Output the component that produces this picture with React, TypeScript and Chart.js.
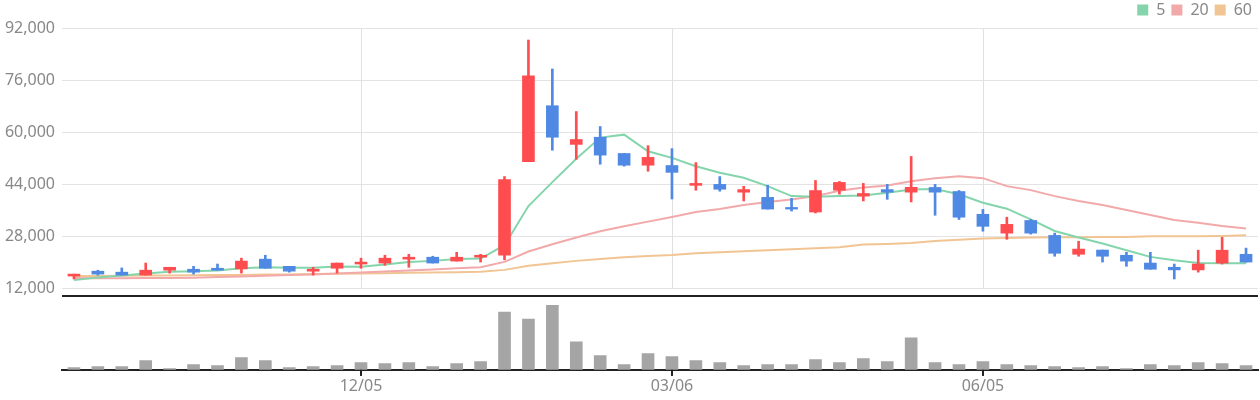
import React, { useEffect, useRef } from "react";
import { Chart, registerables } from "chart.js";

Chart.register(...registerables);

// ---- data (weekly candles) ----
const dates = [
  "09/12", "09/19", "09/26", "10/03", "10/10", "10/17", "10/24", "10/31", "11/07", "11/14",
  "11/21", "11/28", "12/05", "12/12", "12/19", "12/26", "01/02", "01/09", "01/16", "01/23",
  "01/30", "02/06", "02/13", "02/20", "02/27", "03/06", "03/13", "03/20", "03/27", "04/03",
  "04/10", "04/17", "04/24", "05/01", "05/08", "05/15", "05/22", "05/29", "06/05", "06/12",
  "06/19", "06/26", "07/03", "07/10", "07/17", "07/24", "07/31", "08/07", "08/14", "08/21",
];
const shownDates = ["12/05", "03/06", "06/05"];

const openP = [
  15700, 17200, 16900, 16000, 17500, 17800, 18100, 17900, 20900, 18700,
  17200, 18100, 19400, 19700, 20900, 21500, 20300, 21500, 22100, 50900,
  68100, 56200, 58400, 53400, 49800, 49700, 43600, 43900, 41500, 39900,
  36800, 35400, 42100, 40300, 42300, 41500, 42950, 41700, 34700, 28900,
  32800, 28200, 22400, 23700, 22100, 19700, 18400, 17600, 19700, 22400,
];
const highP = [
  16300, 17500, 18200, 19700, 18400, 18700, 19400, 21200, 22100, 18700,
  18400, 19700, 21200, 22100, 22400, 21800, 23000, 22400, 46300, 88300,
  79400, 66300, 61700, 53400, 55800, 54900, 50600, 46300, 43300, 43600,
  39600, 45100, 44800, 44200, 43900, 52500, 43900, 42000, 36200, 33800,
  33100, 28900, 26400, 23700, 23000, 23000, 19400, 23650, 27600, 24300,
];
const lowP = [
  14800, 16000, 16000, 16000, 16600, 16300, 17500, 16600, 18100, 16900,
  16000, 16600, 18100, 19000, 18400, 19700, 20300, 20000, 20700, 50900,
  54400, 51600, 50100, 49500, 47950, 39400, 42100, 41800, 38800, 36300,
  35700, 35100, 40900, 38800, 39300, 38500, 34400, 33100, 29500, 27000,
  28600, 21800, 21800, 20000, 18700, 17800, 14800, 16900, 19400, 20000,
];
const closeP = [
  16300, 16300, 16000, 17500, 18400, 16900, 17500, 20300, 18100, 17200,
  17800, 19700, 20000, 21200, 21500, 19700, 21500, 22100, 45400, 77300,
  58400, 57700, 52900, 49800, 52200, 47600, 44200, 42400, 42300, 36300,
  36300, 42000, 44500, 41100, 41500, 43000, 41500, 33800, 31000, 31600,
  28900, 22700, 24000, 21800, 20300, 17800, 17600, 19400, 23650, 20000,
];
const volume = [
  70000, 100000, 100000, 280000, 40000, 160000, 130000, 370000, 280000, 70000,
  100000, 130000, 220000, 190000, 220000, 100000, 190000, 250000, 1750000, 1540000,
  1960000, 850000, 430000, 160000, 490000, 400000, 280000, 220000, 130000, 160000,
  160000, 310000, 220000, 340000, 250000, 970000, 220000, 160000, 250000, 160000,
  130000, 100000, 70000, 100000, 40000, 160000, 130000, 220000, 190000, 130000,
];
const ma5 = [
  14450, 15280, 15890, 16500, 17000, 17200, 17420, 18130, 18440, 18220,
  18220, 18650, 18530, 19260, 20060, 20370, 20980, 21100, 25180, 37230,
  44590, 51750, 58280, 59200, 54090, 52050, 49490, 47460, 45930, 43360,
  40290, 40100, 40290, 40500, 41330, 42340, 42440, 40860, 38260, 36430,
  33150, 29570, 27540, 25700, 23650, 21600, 20580, 19750, 19660, 19660,
];
const ma20 = [
  15100, 15050, 15050, 15100, 15100, 15200, 15400, 15600, 15800, 16000,
  16200, 16500, 16800, 17100, 17400, 17700, 18100, 18400, 20060, 23240,
  25490, 27540, 29470, 31000, 32440, 33860, 35390, 36300, 37530, 38450,
  39280, 40290, 41940, 42960, 43570, 44890, 45810, 46420, 45810, 43360,
  42130, 40290, 38760, 37530, 36000, 34470, 32930, 32130, 31100, 30300,
];
const ma60 = [
  15700, 15750, 15800, 15850, 15900, 15950, 16000, 16050, 16150, 16200,
  16300, 16400, 16500, 16600, 16700, 16800, 16900, 17000, 17600, 18840,
  19660, 20370, 20980, 21500, 21900, 22210, 22730, 23030, 23340, 23650,
  23950, 24260, 24570, 25390, 25580, 25880, 26500, 26900, 27230, 27420,
  27540, 27630, 27630, 27730, 27730, 27940, 27940, 27940, 28030, 28250,
];
const priceTicks = [12000, 28000, 44000, 60000, 76000, 92000];

const UP = "#ff4d4f";
const DOWN = "#4f89e3";
const C5 = "#84d5ab";
const C20 = "#f2a9a9";
const C60 = "#f1c593";
const VOL = "#a5a5a5";
const TXT = "#888888";
const FONT = "'Noto Sans', 'DejaVu Sans', sans-serif";

export default function App() {
  const ref = useRef<HTMLCanvasElement | null>(null);

  useEffect(() => {
    if (!ref.current) return;
    const colors = closeP.map((c, i) => (c >= openP[i] ? UP : DOWN));

    const framePlugin = {
      id: "frame",
      beforeDatasetsDraw(chart: any) {
        const { ctx, scales } = chart;
        const xs = scales.x;
        const ys = scales.y;
        const yTop = ys.getPixelForValue(priceTicks[priceTicks.length - 1]);
        const yBot = ys.getPixelForValue(priceTicks[0]);
        ctx.save();
        ctx.strokeStyle = "#e0e0e0";
        ctx.lineWidth = 1;
        xs.ticks.forEach((_t: any, i: number) => {
          const px = Math.round(xs.getPixelForTick(i)) + 0.5;
          ctx.beginPath();
          ctx.moveTo(px, yTop);
          ctx.lineTo(px, yBot);
          ctx.stroke();
        });
        ctx.restore();
      },
      afterDraw(chart: any) {
        const { ctx, chartArea, scales } = chart;
        const yv = scales.yv;
        const xs = scales.x;
        ctx.save();
        ctx.strokeStyle = "#222222";
        ctx.lineWidth = 2;
        ctx.beginPath();
        ctx.moveTo(chartArea.left, Math.round(yv.top));
        ctx.lineTo(chartArea.right, Math.round(yv.top));
        ctx.stroke();
        xs.ticks.forEach((_t: any, i: number) => {
          const px = Math.round(xs.getPixelForTick(i));
          ctx.beginPath();
          ctx.moveTo(px, chartArea.bottom);
          ctx.lineTo(px, chartArea.bottom + 6);
          ctx.stroke();
        });
        ctx.restore();
      },
    };

    const chart = new Chart(ref.current, {
      data: {
        labels: dates,
        datasets: [
          {
            type: "line",
            label: "5",
            data: ma5,
            borderColor: C5,
            backgroundColor: C5,
            borderWidth: 2,
            pointRadius: 0,
            tension: 0,
            yAxisID: "y",
            order: 5,
          },
          {
            type: "line",
            label: "20",
            data: ma20,
            borderColor: C20,
            backgroundColor: C20,
            borderWidth: 2,
            pointRadius: 0,
            tension: 0,
            yAxisID: "y",
            order: 6,
          },
          {
            type: "line",
            label: "60",
            data: ma60,
            borderColor: C60,
            backgroundColor: C60,
            borderWidth: 2,
            pointRadius: 0,
            tension: 0,
            yAxisID: "y",
            order: 7,
          },
          {
            type: "bar",
            label: "wick",
            data: lowP.map((l, i) => [l, highP[i]]) as any,
            backgroundColor: colors,
            barThickness: 2,
            grouped: false,
            yAxisID: "y",
            order: 2,
          },
          {
            type: "bar",
            label: "body",
            data: openP.map((o, i) => [o, closeP[i]]) as any,
            backgroundColor: colors,
            barThickness: 12,
            minBarLength: 1,
            grouped: false,
            yAxisID: "y",
            order: 1,
          },
          {
            type: "bar",
            label: "volume",
            data: volume,
            backgroundColor: VOL,
            barThickness: 12,
            grouped: false,
            yAxisID: "yv",
            order: 1,
          },
        ],
      } as any,
      options: {
        animation: false,
        responsive: true,
        maintainAspectRatio: false,
        layout: { padding: { top: -4, right: 2, bottom: 3, left: 0 } },
        plugins: {
          tooltip: { enabled: false },
          legend: {
            position: "top",
            align: "end",
            labels: {
              color: TXT,
              font: { family: FONT, size: 16 },
              boxWidth: 11,
              boxHeight: 11,
              padding: 6,
              generateLabels: (c: any) =>
                (Chart.defaults.plugins.legend.labels.generateLabels as any)(c).map((l: any) => ({
                  ...l,
                  lineWidth: 0,
                })),
              filter: (item: any) => ["5", "20", "60"].includes(item.text),
            },
          },
        },
        scales: {
          x: {
            type: "category",
            offset: true,
            grid: {
              offset: false,
              drawOnChartArea: false,
              drawTicks: true,
              tickLength: 6,
              color: "#222222",
              lineWidth: 2,
            },
            border: { display: true, color: "#222222", width: 2 },
            ticks: {
              autoSkip: false,
              maxRotation: 0,
              color: TXT,
              padding: 1,
              font: { family: FONT, size: 16 },
            },
            afterBuildTicks: (s: any) => {
              s.ticks = s.ticks.filter((t: any) => shownDates.includes(dates[t.value]));
            },
          },
          yv: {
            type: "linear",
            position: "left",
            stack: "main",
            stackWeight: 74,
            min: 0,
            max: 2240000,
            ticks: { display: false },
            grid: { display: false },
            border: { display: false },
            afterFit: (s: any) => {
              s.width = 62;
            },
          },
          y: {
            type: "linear",
            position: "left",
            stack: "main",
            stackWeight: 269,
            bounds: "data",
            min: 9548,
            max: 92000,
            afterBuildTicks: (s: any) => {
              s.ticks = priceTicks.map((v) => ({ value: v }));
            },
            ticks: {
              color: TXT,
              padding: 7,
              font: { family: FONT, size: 16 },
              callback: (v: any) => Number(v).toLocaleString("en-US"),
            },
            grid: { color: "#e3e3e3", drawTicks: false, lineWidth: 1 },
            border: { display: false },
            afterFit: (s: any) => {
              s.width = 62;
            },
          },
        },
      } as any,
      plugins: [framePlugin],
    });

    return () => chart.destroy();
  }, []);

  return (
    <div style={{ position: "fixed", left: 0, top: 0, width: 1260, height: 400, background: "#fff" }}>
      <canvas ref={ref} />
    </div>
  );
}
